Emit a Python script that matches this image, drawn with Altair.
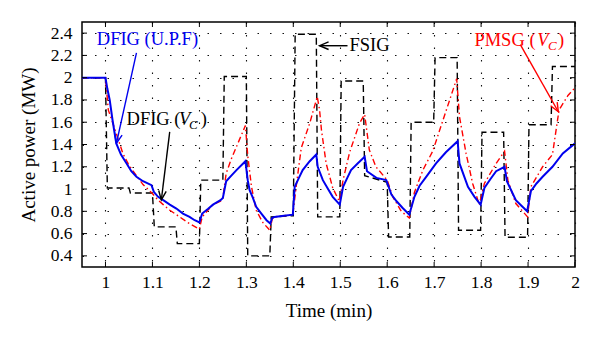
import math
import altair as alt
import pandas as pd

# ---------------- data ----------------
fsig_t = [0.95, 1.0, 1.004, 1.05, 1.053, 1.1, 1.104, 1.15, 1.153, 1.2, 1.203, 1.25, 1.253,
          1.3, 1.303, 1.35, 1.353, 1.4, 1.404, 1.449, 1.452, 1.499, 1.502, 1.549, 1.552,
          1.6, 1.603, 1.648, 1.651, 1.699, 1.702, 1.749, 1.752, 1.799, 1.802, 1.848,
          1.851, 1.899, 1.902, 1.949, 1.952, 2.0]
fsig_p = [2.0, 2.0, 1.01, 1.01, 0.965, 0.965, 0.66, 0.66, 0.51, 0.51, 1.08, 1.08, 2.01,
          2.01, 0.40, 0.40, 0.75, 0.76, 2.39, 2.39, 0.75, 0.75, 1.97, 1.97, 1.12,
          1.06, 0.57, 0.57, 1.60, 1.60, 2.18, 2.18, 0.63, 0.63, 1.51, 1.51,
          0.567, 0.567, 1.577, 1.577, 2.10, 2.10]

dfig_t = [0.95, 1.0, 1.004, 1.009, 1.015, 1.023, 1.033, 1.045, 1.055, 1.066, 1.08, 1.098,
          1.103, 1.112, 1.123, 1.137, 1.151, 1.165, 1.179, 1.19, 1.2, 1.206, 1.218, 1.229,
          1.245, 1.25, 1.257, 1.268, 1.279, 1.298, 1.303, 1.307, 1.314, 1.321, 1.332,
          1.343, 1.351, 1.355, 1.36, 1.38, 1.399, 1.403, 1.412, 1.42, 1.435, 1.449,
          1.452, 1.463, 1.474, 1.484, 1.499, 1.506, 1.515, 1.523, 1.537, 1.552, 1.557,
          1.577, 1.598, 1.609, 1.62, 1.633, 1.647, 1.658, 1.669, 1.683, 1.704, 1.725,
          1.75, 1.754, 1.772, 1.786, 1.799, 1.807, 1.82, 1.832, 1.85, 1.855, 1.874,
          1.886, 1.898, 1.906, 1.918, 1.931, 1.952, 1.974, 2.0]
dfig_p = [2.0, 2.0, 1.90, 1.80, 1.62, 1.41, 1.31, 1.23, 1.16, 1.11, 1.07, 1.035,
          0.975, 0.93, 0.90, 0.86, 0.825, 0.78, 0.75, 0.72, 0.70, 0.78, 0.82, 0.86,
          0.90, 0.92, 1.07, 1.12, 1.17, 1.25, 1.08, 0.99, 0.92, 0.84, 0.78,
          0.72, 0.69, 0.74, 0.75, 0.76, 0.77, 1.02, 1.10, 1.17, 1.25, 1.31,
          1.20, 1.08, 1.00, 0.93, 0.86, 1.02, 1.10, 1.17, 1.23, 1.29, 1.16,
          1.10, 1.08, 0.95, 0.89, 0.83, 0.77, 0.93, 1.03, 1.11, 1.23, 1.33,
          1.43, 1.23, 1.02, 0.93, 0.86, 1.01, 1.09, 1.16, 1.20, 1.07, 0.90,
          0.85, 0.80, 0.98, 1.05, 1.11, 1.20, 1.32, 1.41]

pmsg_t = [0.95, 1.0, 1.006, 1.015, 1.023, 1.037, 1.048, 1.059, 1.08, 1.10, 1.112, 1.123,
          1.137, 1.151, 1.175, 1.2, 1.206, 1.218, 1.229, 1.245, 1.25, 1.257, 1.268,
          1.279, 1.298, 1.303, 1.311, 1.321, 1.335, 1.35, 1.355, 1.36, 1.38, 1.399,
          1.407, 1.417, 1.435, 1.451, 1.456, 1.46, 1.47, 1.484, 1.498, 1.506, 1.52,
          1.541, 1.552, 1.562, 1.576, 1.594, 1.60, 1.612, 1.63, 1.647, 1.658, 1.676,
          1.697, 1.726, 1.748, 1.754, 1.768, 1.782, 1.796, 1.807, 1.832, 1.85, 1.857,
          1.874, 1.899, 1.906, 1.931, 1.952, 1.966, 1.985, 2.0]
pmsg_p = [2.0, 2.0, 1.71, 1.60, 1.50, 1.32, 1.23, 1.16, 1.04, 0.96, 0.90, 0.86,
          0.81, 0.77, 0.70, 0.64, 0.75, 0.81, 0.86, 0.89, 0.92, 1.14, 1.27,
          1.38, 1.57, 1.30, 1.02, 0.81, 0.70, 0.63, 0.73, 0.75, 0.76, 0.77,
          1.05, 1.37, 1.59, 1.83, 1.71, 1.53, 1.23, 1.01, 0.89, 1.08, 1.33,
          1.59, 1.67, 1.35, 1.20, 1.11, 1.08, 0.93, 0.80, 0.74, 0.97, 1.17,
          1.34, 1.71, 1.99, 1.65, 1.32, 1.05, 0.86, 1.05, 1.23, 1.34, 1.08,
          0.87, 0.75, 1.02, 1.20, 1.31, 1.71, 1.84, 1.91]

x_ticks = [1.0, 1.1, 1.2, 1.3, 1.4, 1.5, 1.6, 1.7, 1.8, 1.9, 2.0]
y_ticks = [0.4, 0.6, 0.8, 1.0, 1.2, 1.4, 1.6, 1.8, 2.0, 2.2, 2.4]

# annotation text pieces (time, MW at text baseline)
txt_text = ["DFIG (U.P.F)", "DFIG (", ")", "FSIG", "PMSG (", ")"]
txt_x = [0.9815, 1.0449, 1.2030, 1.5198, 1.7857, 1.9640]
txt_y = [2.296, 1.577, 1.577, 2.238, 2.281, 2.281]
txt_col = ["#0000ee", "black", "black", "black", "#ff0000", "#ff0000"]
txt_size = [18.5, 18.5, 18.5, 18.5, 18.5, 18.5]

it_text = ["V", "C", "V", "C"]
it_x = [1.1565, 1.1780, 1.9195, 1.9425]
it_y = [1.577, 1.541, 2.281, 2.247]
it_col = ["black", "black", "#ff0000", "#ff0000"]
it_size = [18.5, 13, 18.5, 13]

# arrows: start -> tip
arr_x0 = [1.066, 1.1368, 1.5155, 1.8836]
arr_y0 = [2.222, 1.514, 2.287, 2.2975]
arr_x1 = [1.0234, 1.119, 1.456, 1.9645]
arr_y1 = [1.412, 0.9025, 2.287, 1.694]
arr_col = ["#0000ee", "black", "black", "#ff0000"]

# ---------------- chart ----------------
W, H = 493, 245
X0, X1, Y0, Y1 = 0.95, 2.0, 0.3, 2.5
FONT = "Liberation Serif"

XS = alt.Scale(domain=[X0, X1], nice=False, zero=False)
YS = alt.Scale(domain=[Y0, Y1], nice=False, zero=False)
X_AX = alt.Axis(values=x_ticks, format=".1~f", title="Time (min)", grid=True,
                ticks=False, domain=False, labelPadding=6, titlePadding=11,
                labelFlush=False, labelOverlap=False)
Y_AX = alt.Axis(values=y_ticks, format=".1~f", title="Active power (MW)", grid=True,
                ticks=False, domain=False, labelPadding=10, titlePadding=12,
                labelFlush=False, labelOverlap=False)


def X(f):
    return alt.X(f, type="quantitative", scale=XS, axis=X_AX)


def Y(f):
    return alt.Y(f, type="quantitative", scale=YS, axis=Y_AX)


def series(t, p, **kw):
    df = pd.DataFrame({"t": t, "p": p})
    return alt.Chart(df).mark_line(clip=True, **kw).encode(x=X("t"), y=Y("p"))


fsig = series(fsig_t, fsig_p, color="black", strokeWidth=1.4, strokeDash=[7, 4])
pmsg = series(pmsg_t, pmsg_p, color="#ff0000", strokeWidth=1.4, strokeDash=[6, 3, 1.5, 3])
dfig = series(dfig_t, dfig_p, color="#0000ee", strokeWidth=2.0)

# inward ticks on all four sides
xt = pd.DataFrame({"v": x_ticks})
yt = pd.DataFrame({"v": y_ticks})
tick_layers = [
    alt.Chart(xt).mark_rule(color="black", strokeWidth=1).encode(x=X("v"), y=alt.value(0), y2=alt.value(5)),
    alt.Chart(xt).mark_rule(color="black", strokeWidth=1).encode(x=X("v"), y=alt.value(H), y2=alt.value(H - 5)),
    alt.Chart(yt).mark_rule(color="black", strokeWidth=1).encode(y=Y("v"), x=alt.value(0), x2=alt.value(5)),
    alt.Chart(yt).mark_rule(color="black", strokeWidth=1).encode(y=Y("v"), x=alt.value(W), x2=alt.value(W - 5)),
]

# annotations
tdf = pd.DataFrame({"txt": txt_text, "x": txt_x, "y": txt_y, "c": txt_col, "s": txt_size})
idf = pd.DataFrame({"txt": it_text, "x": it_x, "y": it_y, "c": it_col, "s": it_size})
texts = alt.Chart(tdf).mark_text(align="left", baseline="alphabetic", font=FONT).encode(
    x=X("x"), y=Y("y"), text="txt:N", color=alt.Color("c:N", scale=None),
    size=alt.Size("s:Q", scale=None))
itexts = alt.Chart(idf).mark_text(align="left", baseline="alphabetic", font=FONT,
                                  fontStyle="italic").encode(
    x=X("x"), y=Y("y"), text="txt:N", color=alt.Color("c:N", scale=None),
    size=alt.Size("s:Q", scale=None))

# arrow direction in pixel space -> rotation angle
px_per_x = W / (X1 - X0)
px_per_y = H / (Y1 - Y0)
arr_ang = []
for a, b, c, d in zip(arr_x0, arr_y0, arr_x1, arr_y1):
    dx = (c - a) * px_per_x
    dy = -(d - b) * px_per_y
    ang = math.degrees(math.atan2(dy, dx))
    arr_ang.append(ang % 360)

adf = pd.DataFrame({"x0": arr_x0, "y0": arr_y0, "x1": arr_x1, "y1": arr_y1,
                    "c": arr_col, "ang": arr_ang})
arr_lines = alt.Chart(adf).mark_rule(strokeWidth=1.4).encode(
    x=X("x0"), y=Y("y0"), x2="x1:Q", y2="y1:Q", color=alt.Color("c:N", scale=None))
arr_heads = alt.Chart(adf).mark_point(
    shape="M -1 -0.42 L 0 0 L -1 0.42", filled=False, strokeWidth=1.4, size=324, opacity=1
).encode(x=X("x1"), y=Y("y1"), angle=alt.Angle("ang:Q", scale=None),
         color=alt.Color("c:N", scale=None))

chart = alt.layer(
    fsig, pmsg, dfig, *tick_layers, arr_lines, arr_heads, texts, itexts
).properties(
    width=W, height=H,
    autosize=alt.AutoSizeParams(type="none"),
    padding={"left": 82, "top": 22, "right": 25, "bottom": 76},
    background="white",
).configure_view(
    stroke="black", strokeWidth=1.5
).configure_axis(
    labelFont=FONT, titleFont=FONT, labelFontSize=17.5, titleFontSize=19,
    labelColor="black", titleColor="black", titleFontWeight="normal",
    gridColor="#111111", gridDash=[1.5, 11], gridWidth=1.1, gridOpacity=1,
)

chart.save("out.html", embed_options={"renderer": "svg", "actions": False})
